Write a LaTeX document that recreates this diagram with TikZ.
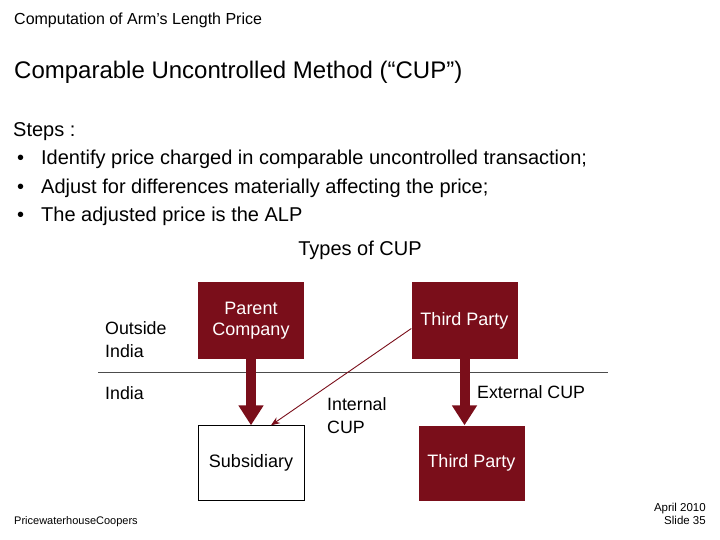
\documentclass[tikz,border=0pt]{standalone}
\usepackage{fontspec}
\setmainfont{Liberation Sans}
\usetikzlibrary{arrows.meta}
\definecolor{dred}{HTML}{7A0E1A}
\begin{document}
\begin{tikzpicture}[x=1pt,y=-1pt,
  rbox/.style={fill=dred,text=white,minimum width=106pt,minimum height=77pt,inner sep=0pt,font=\fontsize{18}{21}\selectfont,align=center},
  wbox/.style={draw=black,fill=white,minimum width=106pt,minimum height=75pt,inner sep=0pt,font=\fontsize{18}{21}\selectfont,align=center},
  lbl/.style={font=\fontsize{17.8}{23}\selectfont,align=left,anchor=north west,inner sep=0pt},
  fat/.style={dred,line width=10pt,-{Triangle[length=20pt,width=24pt]}}]
\useasboundingbox (0,0) rectangle (720,540);
\node[anchor=west,inner sep=0pt,font=\fontsize{16}{18}\selectfont] (h) at (14,20) {Computation of Arm’s Length Price};
\node[anchor=west,inner sep=0pt,font=\fontsize{24}{28}\selectfont] (t) at (14,72) {Comparable Uncontrolled Method (“CUP”)};
\node[anchor=north west,inner sep=0pt,font=\fontsize{20}{28.5}\selectfont,align=left] (s) at (13,122) {Steps :\\
\makebox[28pt][l]{\hspace{4pt}•}Identify price charged in comparable uncontrolled transaction;\\
\makebox[28pt][l]{\hspace{4pt}•}Adjust for differences materially affecting the price;\\
\makebox[28pt][l]{\hspace{4pt}•}The adjusted price is the ALP};
\node[font=\fontsize{20}{24}\selectfont,inner sep=0pt] (ty) at (360,250) {Types of CUP};
\node[rbox] (pc) at (251,320.5) {Parent\\Company};
\node[rbox] (tp1) at (464.5,320.5) {Third Party};
\node[wbox] (sub) at (251,463) {Subsidiary};
\node[rbox,minimum height=75pt] (tp2) at (471.5,463) {Third Party};
\coordinate (la) at (98,372); \coordinate (lb) at (608,372);
\draw[black!70,line width=0.6pt] (la) -- (lb);
\node[lbl] (oi) at (105,321) {Outside\\India};
\node[lbl] (in) at (105,386) {India};
\node[lbl] (ic) at (327,397) {Internal\\CUP};
\node[lbl] (ec) at (477,385) {External CUP};
\draw[fat] (pc.south) -- (sub.north);
\draw[fat] (tp1.south) -- (tp1.south |- tp2.north);
\draw[dred,line width=0.9pt,-{Stealth[length=9pt,width=7pt]}] (tp1.west) ++(0,8) -- ([xshift=20pt]sub.north);
\node[anchor=west,inner sep=0pt,font=\fontsize{11}{13}\selectfont] (pw) at (14,522) {PricewaterhouseCoopers};
\node[anchor=east,inner sep=0pt,font=\fontsize{11.5}{13.5}\selectfont,align=right] (d) at (706,514) {April 2010\\Slide 35};
\end{tikzpicture}
\end{document}
